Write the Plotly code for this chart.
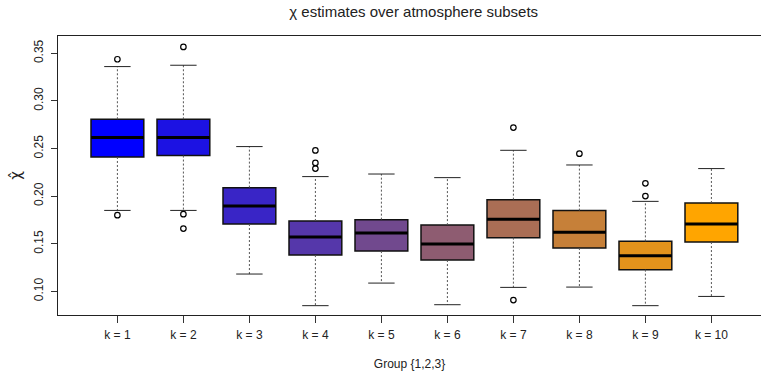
import plotly.graph_objects as go

# Summary statistics per group
groups = ["k = 1", "k = 2", "k = 3", "k = 4", "k = 5",
          "k = 6", "k = 7", "k = 8", "k = 9", "k = 10"]
q1 = [0.2411, 0.2426, 0.1707, 0.1381, 0.1423, 0.1329, 0.1564, 0.1455, 0.1228, 0.1518]
median = [0.2615, 0.2615, 0.1896, 0.1570, 0.1612, 0.1497, 0.1756, 0.1620, 0.1375, 0.1707]
q3 = [0.2807, 0.2807, 0.2089, 0.1739, 0.1753, 0.1696, 0.1963, 0.1848, 0.1525, 0.1928]
lower_whisker = [0.1850, 0.1850, 0.1182, 0.0850, 0.1087, 0.0860, 0.1042, 0.1045, 0.0850, 0.0947]
upper_whisker = [0.3360, 0.3374, 0.2520, 0.2205, 0.2232, 0.2194, 0.2481, 0.2327, 0.1945, 0.2289]

# Points beyond the whiskers (group index, value)
outlier_group = [1, 1, 2, 2, 2, 4, 4, 4, 7, 7, 8, 9, 9]
outlier_value = [0.3437, 0.1800, 0.3566, 0.1810, 0.1659, 0.2480, 0.2348, 0.2289,
                 0.2720, 0.0909, 0.2446, 0.2001, 0.2134]

# blue -> orange ramp
colors = ["#0000FF", "#1C12E3", "#3925C6", "#5537AA", "#71498E",
          "#8E5C71", "#AA6E55", "#C68039", "#E3931C", "#FFA500"]

ticks_y = [0.10, 0.15, 0.20, 0.25, 0.30, 0.35]
ticks_y_text = ["0.10", "0.15", "0.20", "0.25", "0.30", "0.35"]

BOX_W = 0.8
CAP_W = 0.4
FONT = "Liberation Sans, Arial, Helvetica, sans-serif"
TXT = "#222222"

pos = list(range(1, len(groups) + 1))

fig = go.Figure()

# dashed whiskers
wx, wy = [], []
for i, p in enumerate(pos):
    wx += [p, p, None, p, p, None]
    wy += [q3[i], upper_whisker[i], None, q1[i], lower_whisker[i], None]
fig.add_trace(go.Scatter(x=wx, y=wy, mode="lines", hoverinfo="skip",
                         line=dict(color="#555555", width=1, dash="2px,2px"),
                         showlegend=False))

# whisker caps
cx, cy = [], []
for i, p in enumerate(pos):
    cx += [p - CAP_W / 2, p + CAP_W / 2, None, p - CAP_W / 2, p + CAP_W / 2, None]
    cy += [upper_whisker[i], upper_whisker[i], None, lower_whisker[i], lower_whisker[i], None]
fig.add_trace(go.Scatter(x=cx, y=cy, mode="lines", hoverinfo="skip",
                         line=dict(color="#222222", width=1), showlegend=False))

# boxes
for i, p in enumerate(pos):
    fig.add_trace(go.Box(
        x=[p], q1=[q1[i]], median=[median[i]], q3=[q3[i]],
        lowerfence=[q1[i]], upperfence=[q3[i]],
        width=BOX_W, fillcolor=colors[i],
        line=dict(color="#111111", width=1.5),
        whiskerwidth=0, boxpoints=False, showlegend=False, name=groups[i],
    ))

# thick median bars
mx, my = [], []
for i, p in enumerate(pos):
    mx += [p - BOX_W / 2, p + BOX_W / 2, None]
    my += [median[i], median[i], None]
fig.add_trace(go.Scatter(x=mx, y=my, mode="lines", hoverinfo="skip",
                         line=dict(color="black", width=3), showlegend=False))

# outliers
fig.add_trace(go.Scatter(
    x=outlier_group, y=outlier_value, mode="markers", showlegend=False,
    marker=dict(symbol="circle-open", size=5.5, color="black", line=dict(width=1.2)),
))

fig.update_layout(
    template="none",
    width=761, height=376,
    margin=dict(l=58, r=0, t=36, b=61),
    paper_bgcolor="white", plot_bgcolor="white",
    font=dict(family=FONT, color=TXT, size=12),
    title=dict(text="\u03c7 estimates over atmosphere subsets",
               x=0.506, xref="paper", xanchor="center",
               y=1 - 12 / 376, yref="container", yanchor="middle",
               font=dict(size=15, family=FONT, color=TXT)),
)
fig.update_xaxes(
    range=[0.1, 0.1 + 703 / 66], tickvals=pos, ticktext=groups,
    tickfont=dict(size=12, color=TXT, family=FONT), ticklabelstandoff=2,
    showline=True, mirror=True, linecolor="#222222", linewidth=1,
    ticks="outside", ticklen=7, tickcolor="#333333", tickwidth=1,
    showgrid=False, zeroline=False,
    title=dict(text="Group {1,2,3}", font=dict(size=12, family=FONT, color=TXT), standoff=18),
)
fig.update_yaxes(
    range=[0.0752, 0.3681], tickvals=ticks_y, ticktext=ticks_y_text, tickangle=-90,
    tickfont=dict(size=12, color=TXT, family=FONT), ticklabelstandoff=3,
    showline=True, mirror=False, linecolor="#222222", linewidth=1,
    ticks="outside", ticklen=6, tickcolor="#333333", tickwidth=1,
    showgrid=False, zeroline=False,
    title=dict(text="\u03c7\u0302", font=dict(size=15, family="DejaVu Sans", color=TXT), standoff=6),
)

fig.write_html("out.html")
